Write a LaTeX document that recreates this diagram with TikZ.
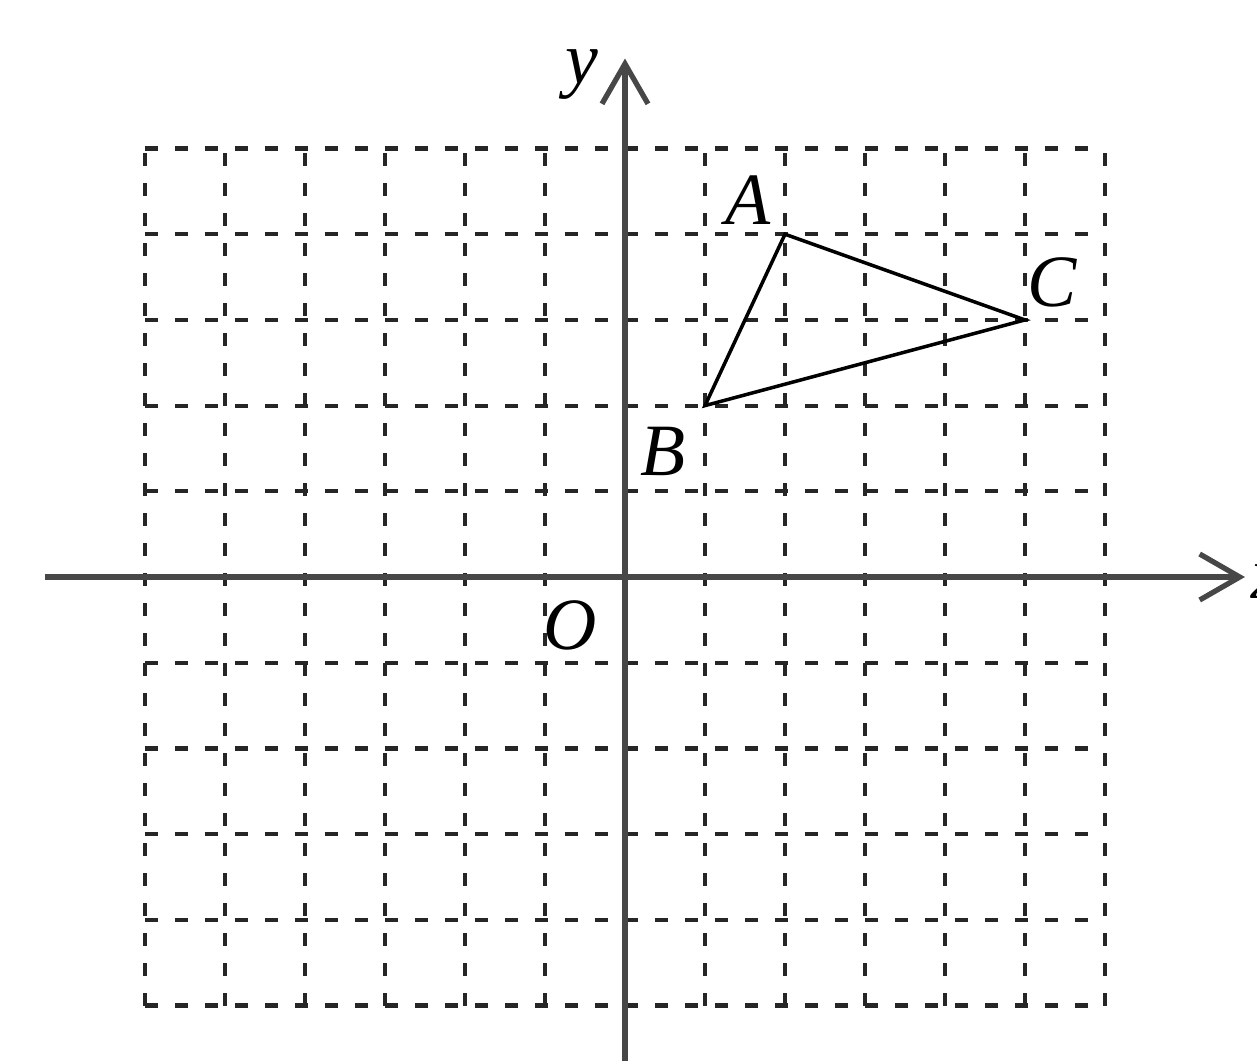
\documentclass[tikz,border=0pt]{standalone}
\usepackage{fontspec}
\setmainfont{Liberation Serif}
\usetikzlibrary{arrows.meta}
\begin{document}
\begin{tikzpicture}[x=0.8cm,y=0.857cm,
  gridline/.style={line width=1.2pt,dash pattern=on 0.13cm off 0.17cm,black!85},
  axisline/.style={line width=1.5pt,black!72,-{Straight Barb[length=0.4cm,width=0.46cm,line width=1.5pt]}},
  triedge/.style={line width=1pt,black},
  lbl/.style={font=\fontsize{21}{21}\selectfont\itshape,inner sep=0pt}]
\useasboundingbox (-7.8125,-5.636) rectangle (7.9,6.733);
% grid
\foreach \i in {-6,...,6} \draw[gridline] (\i,-5) -- (\i,5);
\foreach \j in {-5,...,5} \draw[gridline] (-6,\j) -- (6,\j);
% axes
\coordinate (xs) at (-7.25,0);
\coordinate (xe) at (7.75,0);
\coordinate (ys) at (0,-5.7);
\coordinate (ye) at (0,6.05);
\draw[axisline] (xs) -- (xe);
\draw[axisline] (ys) -- (ye);
% triangle
\coordinate (A) at (2,4);
\coordinate (B) at (1,2);
\coordinate (C) at (5,3);
\draw[triedge] (A) -- (B) -- (C) -- cycle;
% labels
\node[lbl] (la) at (1.54,4.40) {A};
\node[lbl] (lb) at (0.475,1.46) {B};
\node[lbl] (lc) at (5.34,3.44) {C};
\node[lbl] (lo) at (-0.69,-0.56) {O};
\node[lbl] (ly) at (-0.54,5.86) {y};
\node[lbl,anchor=west] (lx) at (7.82,-0.05) {x};
\end{tikzpicture}
\end{document}
